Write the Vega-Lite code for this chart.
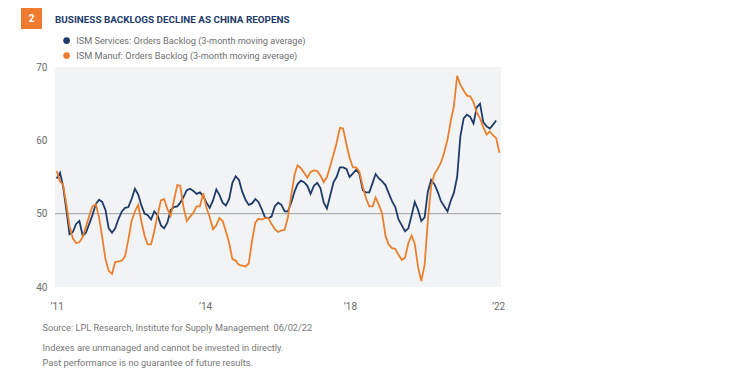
{
  "$schema": "https://vega.github.io/schema/vega-lite/v6.json",
  "width": 446,
  "height": 220,
  "autosize": "none",
  "padding": {"left": 55, "top": 67, "right": 235, "bottom": 86},
  "background": "white",
  "config": {
    "view": {"fill": "#f2f3f5", "stroke": null},
    "font": "Roboto",
    "axis": {"labelFont": "Roboto", "titleFont": "Roboto"},
    "legend": {"labelFont": "Roboto"}
  },
  "title": {
    "text": "BUSINESS BACKLOGS DECLINE AS CHINA REOPENS",
    "anchor": "start",
    "frame": "group",
    "font": "Roboto",
    "fontSize": 9.9,
    "fontWeight": "bold",
    "color": "#1d3a6b",
    "baseline": "alphabetic",
    "offset": -25
  },
  "data": {
    "values": [
      {"d":"2011-01-01","svc":54.8,"mfg":55.8},{"d":"2011-02-01","svc":55.6,"mfg":54.4},{"d":"2011-03-01","svc":53.8,"mfg":54.0},{"d":"2011-04-01","svc":50.5,"mfg":51.3},{"d":"2011-05-01","svc":47.2,"mfg":48.3},{"d":"2011-06-01","svc":47.5,"mfg":46.6},{"d":"2011-07-01","svc":48.6,"mfg":46.0},{"d":"2011-08-01","svc":49.0,"mfg":46.1},{"d":"2011-09-01","svc":47.0,"mfg":46.8},{"d":"2011-10-01","svc":47.4,"mfg":48.2},{"d":"2011-11-01","svc":48.6,"mfg":49.7},{"d":"2011-12-01","svc":49.8,"mfg":51.0},
      {"d":"2012-01-01","svc":51.3,"mfg":51.3},{"d":"2012-02-01","svc":51.9,"mfg":49.5},{"d":"2012-03-01","svc":51.6,"mfg":46.8},{"d":"2012-04-01","svc":50.5,"mfg":43.8},{"d":"2012-05-01","svc":48.0,"mfg":42.2},{"d":"2012-06-01","svc":47.4,"mfg":41.8},{"d":"2012-07-01","svc":48.0,"mfg":43.4},{"d":"2012-08-01","svc":49.3,"mfg":43.5},{"d":"2012-09-01","svc":50.3,"mfg":43.6},{"d":"2012-10-01","svc":50.8,"mfg":44.2},{"d":"2012-11-01","svc":50.9,"mfg":46.5},{"d":"2012-12-01","svc":52.0,"mfg":49.0},
      {"d":"2013-01-01","svc":53.4,"mfg":50.3},{"d":"2013-02-01","svc":52.6,"mfg":51.2},{"d":"2013-03-01","svc":51.2,"mfg":49.0},{"d":"2013-04-01","svc":50.0,"mfg":47.0},{"d":"2013-05-01","svc":49.8,"mfg":45.8},{"d":"2013-06-01","svc":49.2,"mfg":45.8},{"d":"2013-07-01","svc":50.3,"mfg":47.6},{"d":"2013-08-01","svc":49.8,"mfg":49.8},{"d":"2013-09-01","svc":48.4,"mfg":51.8},{"d":"2013-10-01","svc":48.0,"mfg":52.0},{"d":"2013-11-01","svc":48.8,"mfg":50.6},{"d":"2013-12-01","svc":50.5,"mfg":49.7},
      {"d":"2014-01-01","svc":50.9,"mfg":51.8},{"d":"2014-02-01","svc":51.0,"mfg":53.9},{"d":"2014-03-01","svc":51.5,"mfg":53.8},{"d":"2014-04-01","svc":52.3,"mfg":50.8},{"d":"2014-05-01","svc":53.2,"mfg":49.0},{"d":"2014-06-01","svc":53.4,"mfg":49.6},{"d":"2014-07-01","svc":53.1,"mfg":50.1},{"d":"2014-08-01","svc":52.7,"mfg":51.0},{"d":"2014-09-01","svc":52.9,"mfg":51.0},{"d":"2014-10-01","svc":52.4,"mfg":52.8},{"d":"2014-11-01","svc":51.5,"mfg":50.8},{"d":"2014-12-01","svc":50.8,"mfg":49.5},
      {"d":"2015-01-01","svc":51.8,"mfg":47.9},{"d":"2015-02-01","svc":53.3,"mfg":48.4},{"d":"2015-03-01","svc":52.6,"mfg":49.4},{"d":"2015-04-01","svc":51.5,"mfg":49.0},{"d":"2015-05-01","svc":51.1,"mfg":47.6},{"d":"2015-06-01","svc":52.0,"mfg":46.0},{"d":"2015-07-01","svc":54.2,"mfg":43.8},{"d":"2015-08-01","svc":55.1,"mfg":43.6},{"d":"2015-09-01","svc":54.6,"mfg":43.0},{"d":"2015-10-01","svc":53.0,"mfg":42.9},{"d":"2015-11-01","svc":51.9,"mfg":42.8},{"d":"2015-12-01","svc":51.2,"mfg":43.2},
      {"d":"2016-01-01","svc":51.4,"mfg":46.3},{"d":"2016-02-01","svc":52.0,"mfg":48.8},{"d":"2016-03-01","svc":51.6,"mfg":49.3},{"d":"2016-04-01","svc":50.6,"mfg":49.2},{"d":"2016-05-01","svc":49.5,"mfg":49.4},{"d":"2016-06-01","svc":49.4,"mfg":49.4},{"d":"2016-07-01","svc":49.6,"mfg":48.6},{"d":"2016-08-01","svc":51.0,"mfg":47.9},{"d":"2016-09-01","svc":51.5,"mfg":47.5},{"d":"2016-10-01","svc":51.2,"mfg":47.7},{"d":"2016-11-01","svc":50.3,"mfg":47.8},{"d":"2016-12-01","svc":50.3,"mfg":49.5},
      {"d":"2017-01-01","svc":51.5,"mfg":52.5},{"d":"2017-02-01","svc":53.0,"mfg":55.3},{"d":"2017-03-01","svc":54.0,"mfg":56.6},{"d":"2017-04-01","svc":54.5,"mfg":56.2},{"d":"2017-05-01","svc":54.3,"mfg":55.6},{"d":"2017-06-01","svc":53.8,"mfg":54.9},{"d":"2017-07-01","svc":52.7,"mfg":55.7},{"d":"2017-08-01","svc":53.8,"mfg":55.9},{"d":"2017-09-01","svc":54.2,"mfg":55.8},{"d":"2017-10-01","svc":53.5,"mfg":55.2},{"d":"2017-11-01","svc":51.5,"mfg":54.3},{"d":"2017-12-01","svc":50.7,"mfg":55.0},
      {"d":"2018-01-01","svc":52.5,"mfg":56.5},{"d":"2018-02-01","svc":54.3,"mfg":58.1},{"d":"2018-03-01","svc":55.0,"mfg":59.6},{"d":"2018-04-01","svc":56.3,"mfg":61.7},{"d":"2018-05-01","svc":56.3,"mfg":61.6},{"d":"2018-06-01","svc":56.1,"mfg":59.5},{"d":"2018-07-01","svc":55.0,"mfg":57.6},{"d":"2018-08-01","svc":55.5,"mfg":56.3},{"d":"2018-09-01","svc":56.0,"mfg":56.3},{"d":"2018-10-01","svc":55.4,"mfg":55.7},{"d":"2018-11-01","svc":53.2,"mfg":53.7},{"d":"2018-12-01","svc":52.9,"mfg":52.1},
      {"d":"2019-01-01","svc":52.9,"mfg":51.0},{"d":"2019-02-01","svc":54.2,"mfg":51.0},{"d":"2019-03-01","svc":55.4,"mfg":52.2},{"d":"2019-04-01","svc":54.8,"mfg":51.2},{"d":"2019-05-01","svc":54.4,"mfg":50.0},{"d":"2019-06-01","svc":53.9,"mfg":47.0},{"d":"2019-07-01","svc":52.8,"mfg":45.8},{"d":"2019-08-01","svc":51.7,"mfg":45.3},{"d":"2019-09-01","svc":50.9,"mfg":45.2},{"d":"2019-10-01","svc":49.2,"mfg":44.4},{"d":"2019-11-01","svc":48.4,"mfg":43.7},{"d":"2019-12-01","svc":47.6,"mfg":44.0},
      {"d":"2020-01-01","svc":48.0,"mfg":46.0},{"d":"2020-02-01","svc":49.8,"mfg":47.0},{"d":"2020-03-01","svc":51.6,"mfg":45.9},{"d":"2020-04-01","svc":50.5,"mfg":42.7},{"d":"2020-05-01","svc":49.0,"mfg":40.8},{"d":"2020-06-01","svc":49.5,"mfg":43.0},{"d":"2020-07-01","svc":53.0,"mfg":49.0},{"d":"2020-08-01","svc":54.6,"mfg":53.8},{"d":"2020-09-01","svc":54.0,"mfg":55.4},{"d":"2020-10-01","svc":53.0,"mfg":56.1},{"d":"2020-11-01","svc":51.7,"mfg":57.0},{"d":"2020-12-01","svc":51.0,"mfg":58.3},
      {"d":"2021-01-01","svc":50.3,"mfg":60.1},{"d":"2021-02-01","svc":51.8,"mfg":62.7},{"d":"2021-03-01","svc":52.8,"mfg":64.6},{"d":"2021-04-01","svc":55.0,"mfg":68.8},{"d":"2021-05-01","svc":60.5,"mfg":67.6},{"d":"2021-06-01","svc":63.0,"mfg":66.8},{"d":"2021-07-01","svc":63.5,"mfg":66.1},{"d":"2021-08-01","svc":63.2,"mfg":66.0},{"d":"2021-09-01","svc":62.3,"mfg":65.2},{"d":"2021-10-01","svc":64.5,"mfg":63.8},{"d":"2021-11-01","svc":65.0,"mfg":63.0},{"d":"2021-12-01","svc":62.5,"mfg":61.8},
      {"d":"2022-01-01","svc":61.9,"mfg":60.8},{"d":"2022-02-01","svc":61.6,"mfg":61.2},{"d":"2022-03-01","svc":62.1,"mfg":60.7},{"d":"2022-04-01","svc":62.7,"mfg":60.3},{"d":"2022-05-01","mfg":58.3}
    ]
  },
  "layer": [
    {
      "data": {"values": [{"level": 50}]},
      "mark": {"type": "rule", "color": "#9b9ea3", "strokeWidth": 1},
      "encoding": {
        "y": {"field": "level", "type": "quantitative", "scale": {"domain": [40, 70], "nice": false, "zero": false}}
      }
    },
    {
      "transform": [{"fold": ["svc", "mfg"], "as": ["series", "value"]}],
      "mark": {"type": "line", "strokeWidth": 1.8, "interpolate": "linear"},
      "encoding": {
        "x": {
          "field": "d",
          "type": "temporal",
          "scale": {"domain": [{"year": 2010, "month": 12, "date": 16, "utc": true}, {"year": 2022, "month": 5, "date": 16, "utc": true}]},
          "axis": {
            "values": [
              {"year": 2011, "month": 1, "date": 1, "utc": true},
              {"year": 2014, "month": 10, "date": 19, "utc": true},
              {"year": 2018, "month": 7, "date": 4, "utc": true},
              {"year": 2022, "month": 4, "date": 19, "utc": true}
            ],
            "labelExpr": "'’' + utcFormat(datum.value, '%y')",
            "ticks": false,
            "domain": false,
            "grid": false,
            "labelPadding": 14,
            "labelFontSize": 10,
            "labelColor": "#6b6b6b",
            "labelFlush": false,
            "title": "Source: LPL Research, Institute for Supply Management \u00a006/02/22",
            "titleX": -13,
            "titleY": 43.5,
            "titleAlign": "left",
            "titleAnchor": null,
            "titleBaseline": "alphabetic",
            "titleFontSize": 9.2,
            "titleFontWeight": "normal",
            "titleColor": "#777777"
          }
        },
        "y": {
          "field": "value",
          "type": "quantitative",
          "scale": {"domain": [40, 70], "nice": false, "zero": false},
          "axis": {
            "values": [40, 50, 60, 70],
            "ticks": false,
            "domain": false,
            "grid": false,
            "labelPadding": 8,
            "labelFontSize": 10,
            "labelColor": "#6b6b6b",
            "title": ["Indexes are unmanaged and cannot be invested in directly.", "Past performance is no guarantee of future results."],
            "titleAngle": 0,
            "titleX": -13,
            "titleY": 283.5,
            "titleAlign": "left",
            "titleBaseline": "alphabetic",
            "titleLineHeight": 15,
            "titleFontSize": 9.3,
            "titleFontWeight": "normal",
            "titleColor": "#777777"
          }
        },
        "color": {
          "field": "series",
          "type": "nominal",
          "scale": {"domain": ["svc", "mfg"], "range": ["#1f3b68", "#ea802f"]},
          "legend": {
            "orient": "none",
            "legendX": 7,
            "legendY": -31,
            "direction": "vertical",
            "title": null,
            "padding": 0,
            "symbolType": "circle",
            "symbolSize": 45,
            "symbolStrokeWidth": 0,
            "labelFontSize": 9.2,
            "labelColor": "#6f6f6f",
            "labelLimit": 400,
            "labelOffset": 5,
            "rowPadding": 5,
            "labelExpr": "datum.value == 'svc' ? 'ISM Services: Orders Backlog (3-month moving average)' : 'ISM Manuf: Orders Backlog (3-month moving average)'",
            "encode": {"symbols": {"update": {"fill": {"scale": "color", "field": "value"}, "strokeWidth": {"value": 0}}}}
          }
        }
      }
    },
    {
      "data": {"values": [{"badge": "2", "d": "2011-01-01", "level": 50}]},
      "mark": {"type": "point", "filled": true, "color": "#ee7b30", "opacity": 0},
      "encoding": {
        "x": {"field": "d", "type": "temporal"},
        "y": {"field": "level", "type": "quantitative"},
        "shape": {
          "field": "badge",
          "type": "nominal",
          "scale": {"range": ["square"]},
          "legend": {
            "orient": "none",
            "legendX": -34,
            "legendY": -59,
            "title": null,
            "padding": 0,
            "symbolSize": 441,
            "symbolFillColor": "#ee7b30",
            "symbolStrokeWidth": 0,
            "symbolOpacity": 1,
            "labelAlign": "center",
            "labelOffset": -10.5,
            "labelColor": "white",
            "labelFontWeight": "bold",
            "labelFontSize": 10
          }
        }
      }
    }
  ]
}
